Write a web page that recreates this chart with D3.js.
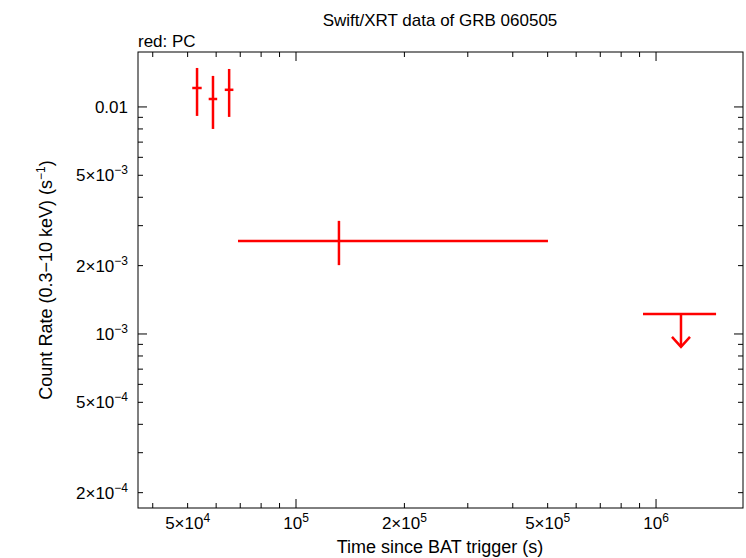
<!DOCTYPE html>
<html><head><meta charset="utf-8">
<script src="https://cdn.jsdelivr.net/npm/d3@7"></script>
<style>body{margin:0;background:#fff}svg{font-family:"Liberation Sans",Arial,sans-serif}</style>
</head><body><svg id="c" width="746" height="558"></svg>
<script>
const detX=[53100,58800,65200,131600];
const detXlo=[51500,57200,63400,69000];
const detXhi=[54700,60400,67000,501000];
const detY=[0.01212,0.01084,0.0119,0.00257];
const detYlo=[0.00913,0.0080,0.00904,0.00201];
const detYhi=[0.01485,0.0137,0.0147,0.00315];
const ulX=[1173000], ulXlo=[920000], ulXhi=[1468000], ulY=[0.001225], ulArrow=[0.000877];
const xTicks=[5e4,1e5,2e5,5e5,1e6];
const yTicks=[2e-4,5e-4,1e-3,2e-3,5e-3,0.01];

const L=138,R=743,T=52,B=508;
const svg=d3.select("#c");
const x=d3.scaleLog().domain([36400,1744000]).range([L,R]);
const y=d3.scaleLog().domain([1.712e-4,0.01746]).range([B,T]);
const g=svg.append("g");
g.append("rect").attr("x",L).attr("y",T).attr("width",R-L).attr("height",B-T).attr("fill","none").attr("stroke","#000");
const minorX=[];for(let e=4;e<=6;e++)for(let m=1;m<10;m++){const v=m*10**e;if(v>=36400&&v<=1744000)minorX.push(v);}
const minorY=[];for(let e=-4;e<=-2;e++)for(let m=1;m<10;m++){const v=m*10**e;if(v>=1.712e-4&&v<=0.01746)minorY.push(v);}
minorX.forEach(v=>{const big=Math.abs(Math.log10(v)%1)<1e-9;const l=big?9:5;
 g.append("line").attr("x1",x(v)).attr("x2",x(v)).attr("y1",B).attr("y2",B-l).attr("stroke","#000");
 g.append("line").attr("x1",x(v)).attr("x2",x(v)).attr("y1",T).attr("y2",T+l).attr("stroke","#000");});
minorY.forEach(v=>{const big=Math.abs(Math.log10(v)-Math.round(Math.log10(v)))<1e-9;const l=big?9:5;
 g.append("line").attr("y1",y(v)).attr("y2",y(v)).attr("x1",L).attr("x2",L+l).attr("stroke","#000");
 g.append("line").attr("y1",y(v)).attr("y2",y(v)).attr("x1",R).attr("x2",R-l).attr("stroke","#000");});
function sup(t,base,ex,pre){t.text(pre||"");t.append("tspan").text(base);if(ex){t.append("tspan").attr("dy",-7).attr("font-size",12).text(ex);}}
xTicks.forEach((v,i)=>{const t=g.append("text").attr("x",x(v)).attr("y",B+21).attr("text-anchor","middle").attr("font-size",17);
 const e=Math.floor(Math.log10(v)+1e-9),m=v/10**e;
 if(Math.abs(m-1)<1e-9) sup(t,"10",e); else sup(t,"10",e,Math.round(m)+"×");});
yTicks.forEach(v=>{const t=g.append("text").attr("x",L-10).attr("y",y(v)+6).attr("text-anchor","end").attr("font-size",17);
 const e=Math.floor(Math.log10(v)+1e-9),m=Math.round(v/10**e);
 if(v===0.01) t.text("0.01"); else if(m===1) sup(t,"10","−"+(-e)); else sup(t,"10","−"+(-e),m+"×");});
svg.append("text").attr("x",440).attr("y",26).attr("text-anchor","middle").attr("font-size",17).text("Swift/XRT data of GRB 060505");
svg.append("text").attr("x",138).attr("y",47).attr("font-size",17).text("red: PC");
svg.append("text").attr("x",440).attr("y",553).attr("text-anchor","middle").attr("font-size",18).text("Time since BAT trigger (s)");
const yl=svg.append("text").attr("transform","translate(52,280) rotate(-90)").attr("text-anchor","middle").attr("font-size",18).text("Count Rate (0.3−10 keV) (s");
yl.append("tspan").attr("dy",-7).attr("font-size",12).text("−1");yl.append("tspan").attr("dy",7).text(")");
const red="#f00";
detX.forEach((v,i)=>{
 g.append("line").attr("x1",x(detXlo[i])).attr("x2",x(detXhi[i])).attr("y1",y(detY[i])).attr("y2",y(detY[i])).attr("stroke",red).attr("stroke-width",2.5);
 g.append("line").attr("x1",x(v)).attr("x2",x(v)).attr("y1",y(detYlo[i])).attr("y2",y(detYhi[i])).attr("stroke",red).attr("stroke-width",2.5);});
ulX.forEach((v,i)=>{
 g.append("line").attr("x1",x(ulXlo[i])).attr("x2",x(ulXhi[i])).attr("y1",y(ulY[i])).attr("y2",y(ulY[i])).attr("stroke",red).attr("stroke-width",2.5);
 g.append("line").attr("x1",x(v)).attr("x2",x(v)).attr("y1",y(ulY[i])).attr("y2",y(ulArrow[i])).attr("stroke",red).attr("stroke-width",2.5);
 const ay=y(ulArrow[i]);
 g.append("path").attr("d",`M${x(v)-9},${ay-10}L${x(v)},${ay}L${x(v)+9},${ay-10}`).attr("fill","none").attr("stroke",red).attr("stroke-width",2.5);});
</script></body></html>
